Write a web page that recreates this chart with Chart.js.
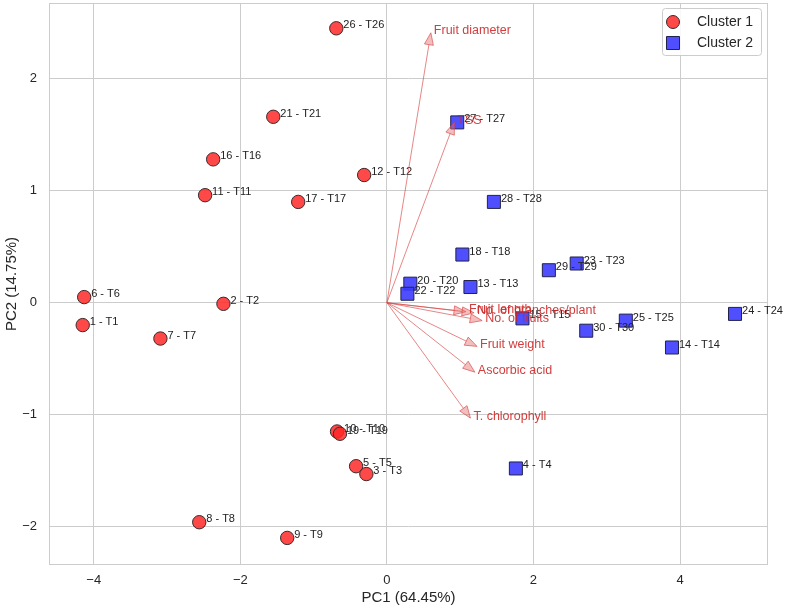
<!DOCTYPE html>
<html>
<head>
<meta charset="utf-8">
<script src="https://cdn.jsdelivr.net/npm/chart.js@4.4.1/dist/chart.umd.min.js"></script>
<style>
  html, body { margin: 0; padding: 0; background: #fff; }
</style>
</head>
<body>
<canvas id="pcaChart" width="787" height="609"></canvas>
<script>
// treatment scores, cluster 1
const cluster1Names = ["26 - T26", "21 - T21", "16 - T16", "11 - T11", "12 - T12", "17 - T17",
    "6 - T6", "1 - T1", "2 - T2", "7 - T7", "10 - T10", "19 - T19", "5 - T5", "3 - T3", "8 - T8", "9 - T9"];
const cluster1PC1 = [-0.69, -1.55, -2.37, -2.48, -0.31, -1.21, -4.13, -4.15, -2.23, -3.09, -0.68, -0.64, -0.42, -0.28, -2.56, -1.36];
const cluster1PC2 = [2.45, 1.66, 1.28, 0.96, 1.14, 0.90, 0.05, -0.20, -0.01, -0.32, -1.15, -1.17, -1.46, -1.53, -1.96, -2.10];

// treatment scores, cluster 2
const cluster2Names = ["27 - T27", "28 - T28", "18 - T18", "20 - T20", "22 - T22", "13 - T13", "29 - T29",
    "23 - T23", "15 - T15", "30 - T30", "25 - T25", "14 - T14", "24 - T24", "4 - T4"];
const cluster2PC1 = [0.96, 1.46, 1.03, 0.32, 0.28, 1.14, 2.21, 2.59, 1.85, 2.72, 3.26, 3.89, 4.75, 1.76];
const cluster2PC2 = [1.61, 0.90, 0.43, 0.17, 0.08, 0.14, 0.29, 0.35, -0.14, -0.25, -0.16, -0.40, -0.10, -1.48];

// variable loadings (arrow tips)
const variables = ["Fruit diameter", "TSS", "Fruit length", "No. of branches/plant", "No. of fruits",
    "Fruit weight", "Ascorbic acid", "T. chlorophyll"];
const loadPC1 = [0.60, 0.92, 1.08, 1.19, 1.30, 1.23, 1.20, 1.14];
const loadPC2 = [2.41, 1.61, -0.08, -0.09, -0.16, -0.39, -0.62, -1.03];

const xTicks = [-4, -2, 0, 2, 4];
const yTicks = [-2, -1, 0, 1, 2];

const FONT = "'Liberation Sans', Arial, sans-serif";
const names = [cluster1Names, cluster2Names];

const toPoints = (xs, ys) => xs.map((x, i) => ({ x: x, y: ys[i] }));
const minus = (v) => String(v).replace("-", "\u2212");

const framePlugin = {
    id: "frame",
    beforeDatasetsDraw(chart) {
        const { ctx, chartArea: a } = chart;
        ctx.save();
        ctx.strokeStyle = "#cccccc";
        ctx.lineWidth = 1;
        ctx.strokeRect(a.left + 0.5, a.top + 0.5, a.right - a.left - 1, a.bottom - a.top - 1);
        ctx.restore();
    },
};

const pointLabels = {
    id: "pointLabels",
    afterDatasetsDraw(chart) {
        const ctx = chart.ctx;
        ctx.save();
        ctx.font = "11px " + FONT;
        ctx.fillStyle = "#222";
        ctx.textAlign = "left";
        ctx.textBaseline = "middle";
        [0, 1].forEach((d) => {
            chart.getDatasetMeta(d).data.forEach((el, i) => {
                ctx.fillText(names[d][i], el.x + 7, el.y - 3);
            });
        });
        ctx.restore();
    },
};

const arrows = {
    id: "arrows",
    afterDatasetsDraw(chart) {
        const ctx = chart.ctx;
        const xs = chart.scales.x;
        const ys = chart.scales.y;
        const x0 = xs.getPixelForValue(0);
        const y0 = ys.getPixelForValue(0);
        ctx.save();
        for (let i = 0; i < variables.length; i++) {
            const x1 = xs.getPixelForValue(loadPC1[i]);
            const y1 = ys.getPixelForValue(loadPC2[i]);
            const ang = Math.atan2(y1 - y0, x1 - x0);
            const hl = 12, hw = 4.5;
            const bx = x1 - hl * Math.cos(ang);
            const by = y1 - hl * Math.sin(ang);
            ctx.strokeStyle = "rgba(215, 70, 70, 0.65)";
            ctx.lineWidth = 1;
            ctx.beginPath();
            ctx.moveTo(x0, y0);
            ctx.lineTo(bx, by);
            ctx.stroke();
            ctx.fillStyle = "rgba(230, 110, 110, 0.45)";
            ctx.beginPath();
            ctx.moveTo(x1, y1);
            ctx.lineTo(bx + hw * Math.sin(ang), by - hw * Math.cos(ang));
            ctx.lineTo(bx - hw * Math.sin(ang), by + hw * Math.cos(ang));
            ctx.closePath();
            ctx.fill();
            ctx.stroke();
        }
        ctx.font = "12.5px " + FONT;
        ctx.fillStyle = "rgba(205, 40, 40, 0.9)";
        ctx.textAlign = "left";
        ctx.textBaseline = "middle";
        for (let i = 0; i < variables.length; i++) {
            const x1 = xs.getPixelForValue(loadPC1[i]);
            const y1 = ys.getPixelForValue(loadPC2[i]);
            ctx.fillText(variables[i], x1 + 3, y1 - 2);
        }
        ctx.restore();
    },
};

const legendBox = {
    id: "legendBox",
    afterDraw(chart) {
        const ctx = chart.ctx;
        const a = chart.chartArea;
        const left = a.right - 106, top = a.top + 5, w = 99, h = 47;
        ctx.save();
        ctx.fillStyle = "rgba(255,255,255,0.85)";
        ctx.strokeStyle = "#cccccc";
        ctx.lineWidth = 1;
        ctx.beginPath();
        ctx.roundRect(left + 0.5, top + 0.5, w, h, 3);
        ctx.fill();
        ctx.stroke();
        const ds = chart.data.datasets;
        ds.forEach((d, i) => {
            const cy = top + 14 + i * 21;
            const cx = left + 11;
            ctx.fillStyle = d.backgroundColor;
            ctx.strokeStyle = d.borderColor;
            ctx.lineWidth = 1;
            ctx.beginPath();
            if (d.pointStyle === "rect") {
                ctx.rect(cx - 6.5, cy - 6.5, 13, 13);
            } else {
                ctx.arc(cx, cy, 6.5, 0, Math.PI * 2);
            }
            ctx.fill();
            ctx.stroke();
            ctx.fillStyle = "#262626";
            ctx.font = "14px " + FONT;
            ctx.textAlign = "left";
            ctx.textBaseline = "middle";
            ctx.fillText(d.label, left + 35, cy);
        });
        ctx.restore();
    },
};

new Chart(document.getElementById("pcaChart").getContext("2d"), {
    type: "scatter",
    data: {
        datasets: [
            {
                label: "Cluster 1",
                data: toPoints(cluster1PC1, cluster1PC2),
                pointStyle: "circle",
                pointRadius: 6.7,
                backgroundColor: "rgba(255, 40, 40, 0.85)",
                borderColor: "#3a2a2a",
                borderWidth: 1,
            },
            {
                label: "Cluster 2",
                data: toPoints(cluster2PC1, cluster2PC2),
                pointStyle: "rect",
                pointRadius: 9.2,
                backgroundColor: "rgba(60, 60, 255, 0.9)",
                borderColor: "#22224a",
                borderWidth: 1,
            },
        ],
    },
    options: {
        responsive: false,
        animation: false,
        devicePixelRatio: 1,
        layout: { autoPadding: false, padding: { top: 3, right: 19, left: 0, bottom: 0 } },
        plugins: {
            legend: { display: false },
            tooltip: { enabled: false },
        },
        scales: {
            x: {
                type: "linear",
                min: -4.61,
                max: 5.20,
                afterFit: (scale) => {
                    scale.height = 44;
                    scale.paddingLeft = 0;
                    scale.paddingRight = 0;
                },
                afterBuildTicks: (scale) => { scale.ticks = xTicks.map((v) => ({ value: v })); },
                ticks: {
                    font: { family: FONT, size: 13 },
                    color: "#262626",
                    padding: 8,
                    callback: (v) => minus(v),
                },
                grid: { color: "#cccccc", drawTicks: false },
                border: { display: false },
                title: {
                    display: true,
                    text: "PC1 (64.45%)",
                    font: { family: FONT, size: 15 },
                    color: "#262626",
                    padding: { top: 0, bottom: 2 },
                },
            },
            y: {
                type: "linear",
                min: -2.342,
                max: 2.676,
                afterFit: (scale) => {
                    scale.width = 49;
                    scale.paddingTop = 0;
                    scale.paddingBottom = 0;
                },
                afterBuildTicks: (scale) => { scale.ticks = yTicks.map((v) => ({ value: v })); },
                ticks: {
                    font: { family: FONT, size: 13 },
                    color: "#262626",
                    padding: 12,
                    callback: (v) => minus(v),
                },
                grid: { color: "#cccccc", drawTicks: false },
                border: { display: false },
                title: {
                    display: true,
                    text: "PC2 (14.75%)",
                    font: { family: FONT, size: 15 },
                    color: "#262626",
                    padding: { top: 3, bottom: 0 },
                },
            },
        },
    },
    plugins: [framePlugin, pointLabels, arrows, legendBox],
});
</script>
</body>
</html>
